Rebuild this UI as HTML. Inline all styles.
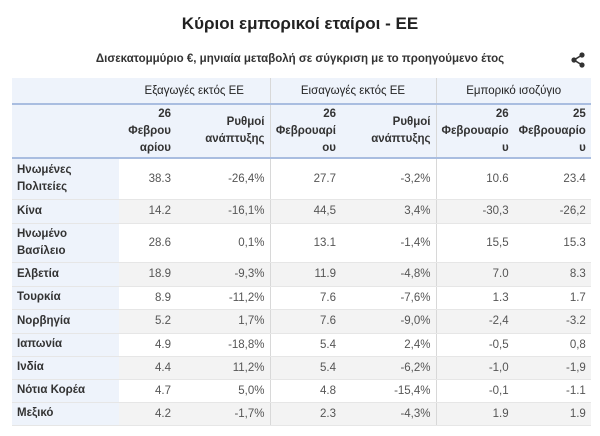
<!DOCTYPE html>
<html><head><meta charset="utf-8"><style>
body{margin:0;width:600px;height:436px;background:#fff;font-family:"Liberation Sans",Arial,sans-serif;color:#333;position:relative;overflow:hidden}
.t{position:absolute;top:14px;left:0;width:600px;text-align:center;font-size:17px;font-weight:bold;color:#222}
.s{position:absolute;top:53px;left:0;width:600px;text-align:center;font-size:11.5px;font-weight:bold;color:#333}
table{position:absolute;left:12px;top:78px;border-collapse:collapse;font-size:11.5px;table-layout:fixed}
td,th{padding:0 5px;text-align:right;vertical-align:middle}
th{font-weight:bold;color:#333}
.h1 th{height:25px;background:#eef3fb;text-align:center;font-weight:normal;color:#222;border-bottom:2px solid #a9bde0}
.h2 th{height:52px;background:#eef3fb;line-height:17px;border-bottom:2px solid #a9bde0}
td{color:#555;border-bottom:1px solid #e6e6e6}
td.l{text-align:left;font-weight:bold;color:#333;background:#eef3fb;line-height:17px}
tr.g td{background:#f3f3f3}
tr.g td.l{background:#eef3fb}
.d{border-left:1px solid #d8d8d8}
</style></head><body>
<div class="t">Κύριοι εμπορικοί εταίροι - ΕΕ</div>
<div class="s">Δισεκατομμύριο €, μηνιαία μεταβολή σε σύγκριση με το προηγούμενο έτος</div>
<svg style="position:absolute;left:571px;top:52px" width="14" height="16" viewBox="0 0 14 16"><circle cx="11" cy="3" r="2.6" fill="#333"/><circle cx="3" cy="8" r="2.6" fill="#333"/><circle cx="11" cy="13" r="2.6" fill="#333"/><path d="M11 3L3 8L11 13" stroke="#333" stroke-width="1.6" fill="none"/></svg>
<table>
<colgroup><col style="width:107px"><col style="width:57px"><col style="width:94px"><col style="width:71px"><col style="width:95px"><col style="width:77px"><col style="width:75px"></colgroup>
<tr class="h1"><th></th><th colspan="2">Εξαγωγές εκτός ΕΕ</th><th colspan="2" class="d">Εισαγωγές εκτός ΕΕ</th><th colspan="2" class="d">Εμπορικό ισοζύγιο</th></tr>
<tr class="h2"><th></th><th>26<br>Φεβρου<br>αρίου</th><th>Ρυθμοί<br>ανάπτυξης</th><th class="d">26<br>Φεβρουαρί<br>ου</th><th>Ρυθμοί<br>ανάπτυξης</th><th class="d">26<br>Φεβρουαρίο<br>υ</th><th>25<br>Φεβρουαρίο<br>υ</th></tr>
<tr style="height:41px"><td class="l">Ηνωμένες<br>Πολιτείες</td><td>38.3</td><td>-26,4%</td><td class="d">27.7</td><td>-3,2%</td><td class="d">10.6</td><td>23.4</td></tr>
<tr class="g" style="height:24px"><td class="l">Κίνα</td><td>14.2</td><td>-16,1%</td><td class="d">44,5</td><td>3,4%</td><td class="d">-30,3</td><td>-26,2</td></tr>
<tr style="height:39px"><td class="l">Ηνωμένο<br>Βασίλειο</td><td>28.6</td><td>0,1%</td><td class="d">13.1</td><td>-1,4%</td><td class="d">15,5</td><td>15.3</td></tr>
<tr class="g" style="height:24px"><td class="l">Ελβετία</td><td>18.9</td><td>-9,3%</td><td class="d">11.9</td><td>-4,8%</td><td class="d">7.0</td><td>8.3</td></tr>
<tr style="height:23px"><td class="l">Τουρκία</td><td>8.9</td><td>-11,2%</td><td class="d">7.6</td><td>-7,6%</td><td class="d">1.3</td><td>1.7</td></tr>
<tr class="g" style="height:24px"><td class="l">Νορβηγία</td><td>5.2</td><td>1,7%</td><td class="d">7.6</td><td>-9,0%</td><td class="d">-2,4</td><td>-3.2</td></tr>
<tr style="height:23px"><td class="l">Ιαπωνία</td><td>4.9</td><td>-18,8%</td><td class="d">5.4</td><td>2,4%</td><td class="d">-0,5</td><td>0,8</td></tr>
<tr class="g" style="height:23px"><td class="l">Ινδία</td><td>4.4</td><td>11,2%</td><td class="d">5.4</td><td>-6,2%</td><td class="d">-1,0</td><td>-1,9</td></tr>
<tr style="height:23px"><td class="l">Νότια Κορέα</td><td>4.7</td><td>5,0%</td><td class="d">4.8</td><td>-15,4%</td><td class="d">-0,1</td><td>-1.1</td></tr>
<tr class="g" style="height:23px"><td class="l">Μεξικό</td><td>4.2</td><td>-1,7%</td><td class="d">2.3</td><td>-4,3%</td><td class="d">1.9</td><td>1.9</td></tr>
</table>
</body></html>
